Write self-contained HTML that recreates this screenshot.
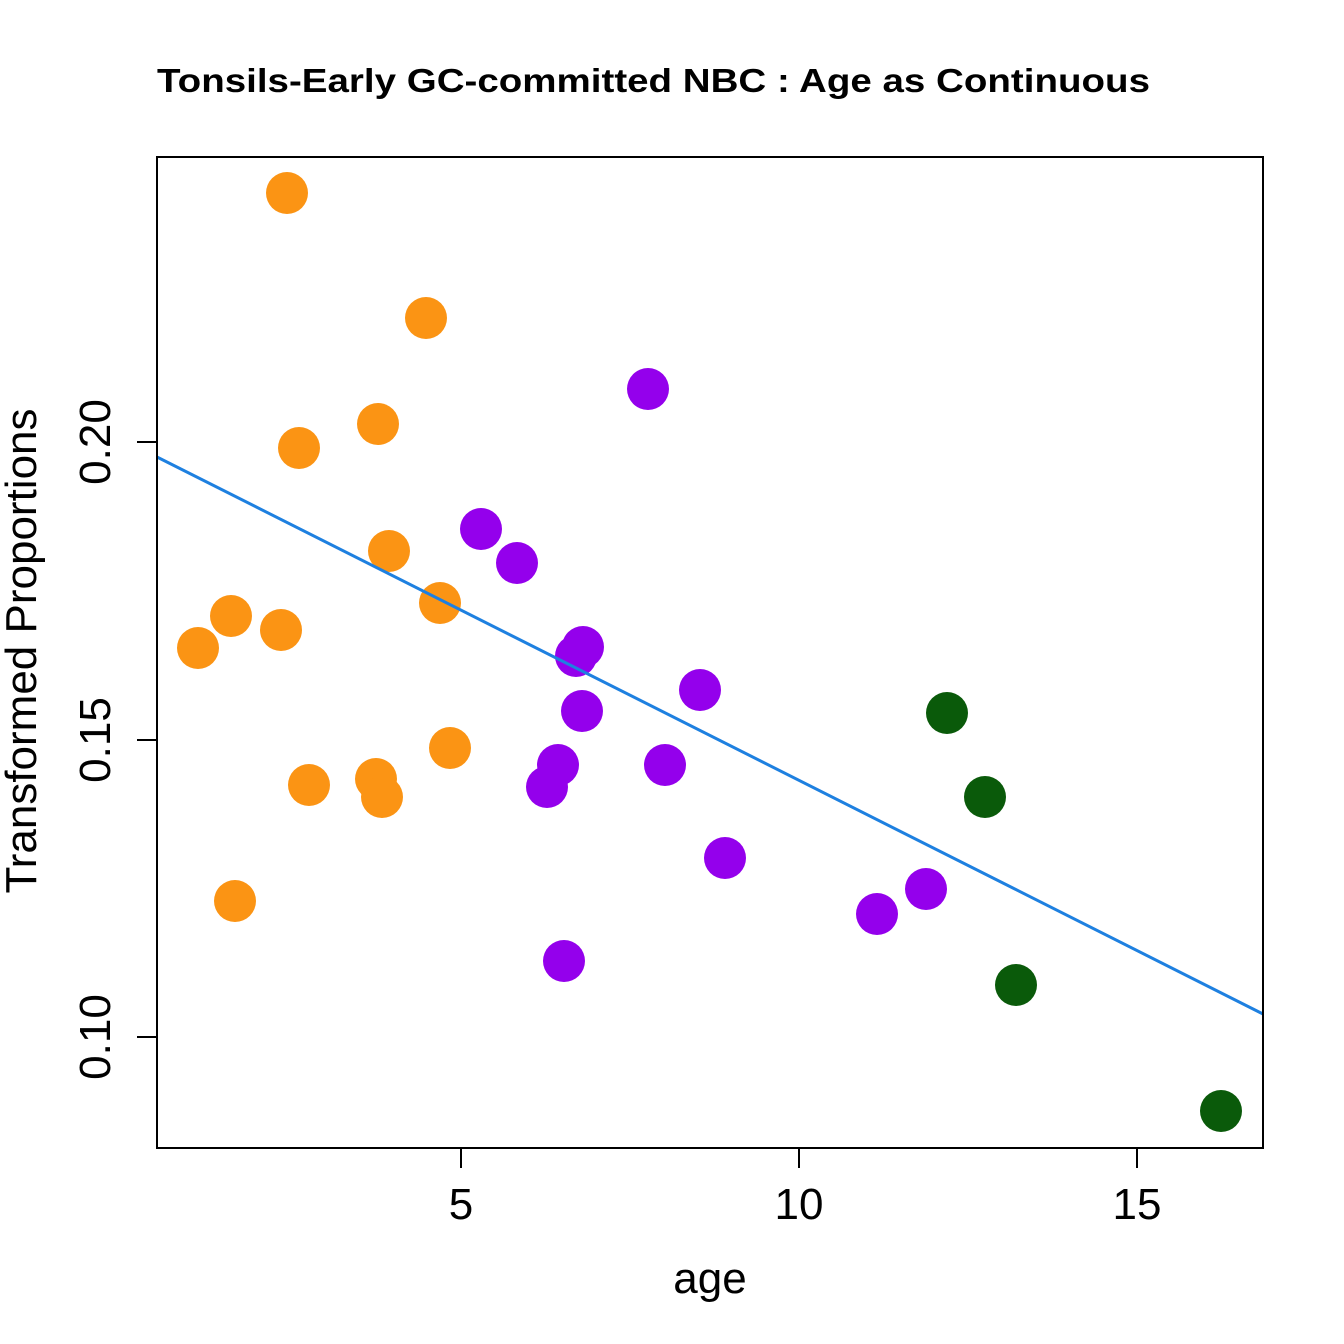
<!DOCTYPE html>
<html><head><meta charset="utf-8"><style>
html,body{margin:0;padding:0;background:#fff}
svg{display:block}
text{font-family:"Liberation Sans",Arial,sans-serif;fill:#000}
</style></head><body>
<svg width="1344" height="1344" viewBox="0 0 1344 1344" xmlns="http://www.w3.org/2000/svg">
<rect width="1344" height="1344" fill="#fff"/>
<text x="157" y="92" font-size="33" font-weight="bold" textLength="993" lengthAdjust="spacingAndGlyphs">Tonsils-Early GC-committed NBC : Age as Continuous</text>
<g fill="#FB9414">
<circle cx="287" cy="193" r="21"/><circle cx="426" cy="318" r="21"/><circle cx="378" cy="424" r="21"/><circle cx="299" cy="448" r="21"/><circle cx="389" cy="551" r="21"/><circle cx="440" cy="603" r="21"/><circle cx="231" cy="616" r="21"/><circle cx="281" cy="630" r="21"/><circle cx="198" cy="648" r="21"/><circle cx="450" cy="748" r="21"/><circle cx="376" cy="779" r="21"/><circle cx="309" cy="785" r="21"/><circle cx="382" cy="797" r="21"/><circle cx="235" cy="901" r="21"/>
</g>
<g fill="#9400EC">
<circle cx="648" cy="389" r="21"/><circle cx="481" cy="529" r="21"/><circle cx="517" cy="563" r="21"/><circle cx="576" cy="656" r="21"/><circle cx="583" cy="647" r="21"/><circle cx="700" cy="690" r="21"/><circle cx="582" cy="711" r="21"/><circle cx="558" cy="765" r="21"/><circle cx="665" cy="765" r="21"/><circle cx="547" cy="787" r="21"/><circle cx="725" cy="858" r="21"/><circle cx="926" cy="889" r="21"/><circle cx="877" cy="914" r="21"/><circle cx="564" cy="961" r="21"/>
</g>
<g fill="#0A5A0A">
<circle cx="947" cy="713" r="21"/><circle cx="985" cy="797" r="21"/><circle cx="1016" cy="985" r="21"/><circle cx="1221" cy="1111" r="21"/>
</g>
<line x1="157" y1="457" x2="1263" y2="1014" stroke="#1E80E0" stroke-width="3"/>
<rect x="157" y="157" width="1106" height="991" fill="none" stroke="#000" stroke-width="2"/>
<g stroke="#000" stroke-width="2">
<line x1="461" y1="1148" x2="461" y2="1168"/><line x1="799" y1="1148" x2="799" y2="1168"/><line x1="1137" y1="1148" x2="1137" y2="1168"/>
<line x1="137" y1="442" x2="157" y2="442"/><line x1="137" y1="740" x2="157" y2="740"/><line x1="137" y1="1037" x2="157" y2="1037"/>
</g>
<g font-size="44" text-anchor="middle">
<text x="461" y="1219">5</text><text x="799" y="1219">10</text><text x="1137" y="1219">15</text>
<text transform="translate(110,442) rotate(-90)">0.20</text>
<text transform="translate(110,740) rotate(-90)">0.15</text>
<text transform="translate(110,1037) rotate(-90)">0.10</text>
<text x="710" y="1293">age</text>
<text transform="translate(36,651) rotate(-90)">Transformed Proportions</text>
</g>
</svg>
</body></html>
